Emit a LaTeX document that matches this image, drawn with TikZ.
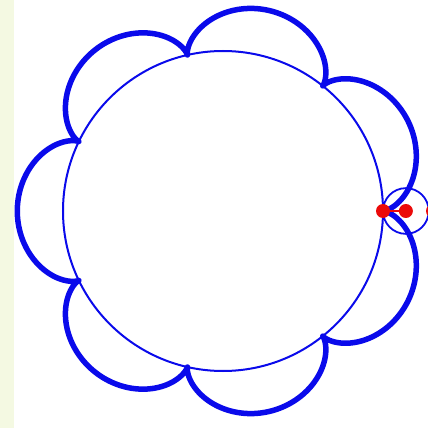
\documentclass[tikz,border=0pt]{standalone}
\usepackage{tikz}
\usetikzlibrary{arrows.meta,positioning}

\definecolor{stripgreen}{RGB}{244,249,226}
\definecolor{penblue}{RGB}{10,10,235}
\definecolor{dotred}{RGB}{235,10,10}

\begin{document}
\begin{tikzpicture}[
  x=1pt,y=1pt,
  basecircle/.style={draw=penblue,line width=2pt},
  rollcircle/.style={draw=penblue,line width=1.8pt},
  epicurve/.style={draw=penblue,line width=5.5pt,line join=round},
  marker/.style={circle,fill=dotred,inner sep=0pt,minimum size=14pt},
  every edge/.style={draw=dotred,line width=2pt}
]
\useasboundingbox (-223,-217) rectangle (205,211);
\fill[white] (-223,-217) rectangle (205,211);
\fill[stripgreen] (-223,-217) rectangle (-209,211);

% fixed circle, radius 160, and the rolling one, radius 160/7
\draw[basecircle] (0,0) circle[radius=160];
\draw[rollcircle] (182.857,0) circle[radius=22.857];

% epicycloid with seven cusps
\draw[epicurve] plot[domain=0:360,samples=721,variable=\t]
 ({182.857*cos(\t)-22.857*cos(8*\t)},{182.857*sin(\t)-22.857*sin(8*\t)}) -- cycle;

\node[marker] (trace) at (160,0) {};
\node[marker] (hub) at (182.857,0) {};
\node[marker] (rim) at (210,0) {};

\path (trace) edge (hub);
\end{tikzpicture}
\end{document}
